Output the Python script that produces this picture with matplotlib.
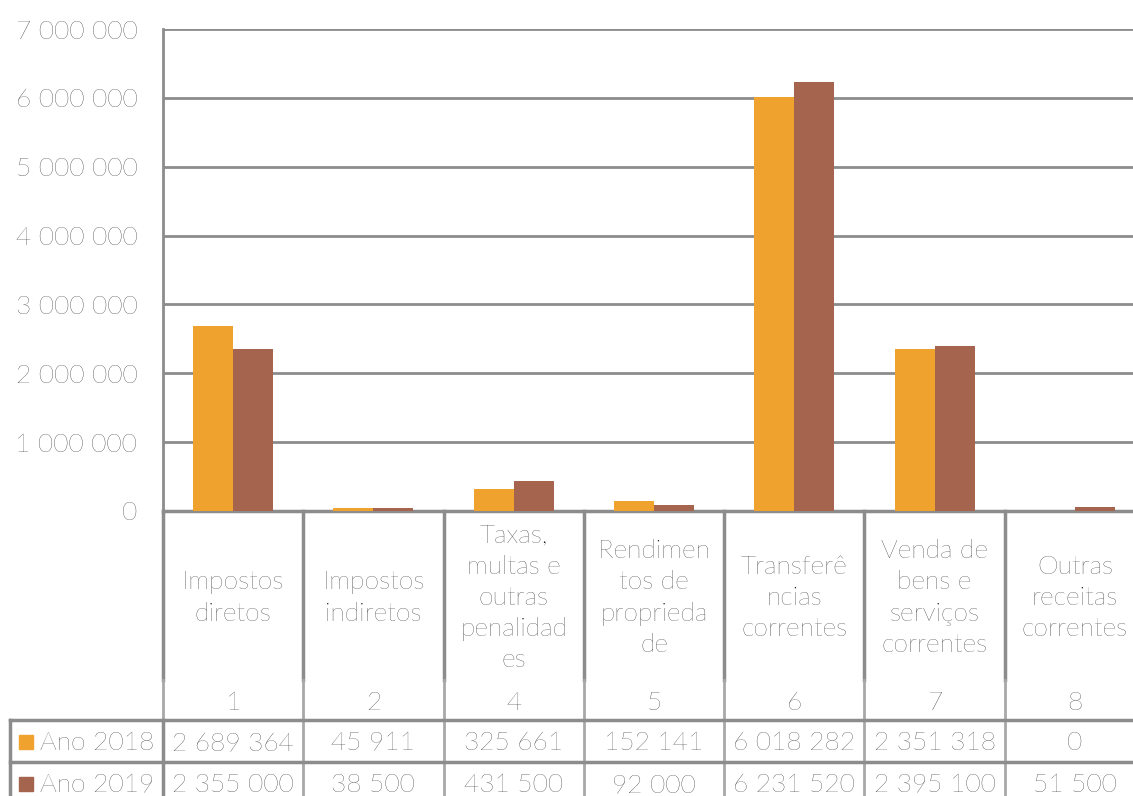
import matplotlib.pyplot as plt
from matplotlib.patches import Rectangle

plt.rcParams['font.family'] = ['Lato', 'DejaVu Sans']
plt.rcParams['font.weight'] = 'light'

# receitas correntes por capítulo
codes = ['1', '2', '4', '5', '6', '7', '8']
labels = ['Impostos\ndiretos', 'Impostos\nindiretos',
          'Taxas,\nmultas e\noutras\npenalidad\nes',
          'Rendimen\ntos de\nproprieda\nde',
          'Transferê\nncias\ncorrentes',
          'Venda de\nbens e\nserviços\ncorrentes',
          'Outras\nreceitas\ncorrentes']
ano_2018 = [2689364, 45911, 325661, 152141, 6018282, 2351318, 0]
ano_2019 = [2355000, 38500, 431500, 92000, 6231520, 2395100, 51500]
series = [('Ano 2018', ano_2018, '#F0A22E'), ('Ano 2019', ano_2019, '#A5644E')]
yticks = [0, 1000000, 2000000, 3000000, 4000000, 5000000, 6000000, 7000000]

grid_c = '#8C8C8C'
txt_c = '#0A0A0A'
fs = 19

fig = plt.figure(figsize=(11.33, 7.96), dpi=100)
ax = fig.add_axes([163 / 1133, 285 / 796, 982 / 1133, 482 / 796])

x = list(range(len(codes)))
w = 0.285
ax.bar([i - w / 2 for i in x], ano_2018, width=w, color=series[0][2], zorder=3)
ax.bar([i + w / 2 for i in x], ano_2019, width=w, color=series[1][2], zorder=3)

ax.set_xlim(-0.5, len(codes) - 0.5)
ax.set_ylim(0, 7000000)
ax.set_yticks(yticks)
ax.set_yticklabels([f'{v:,}'.replace(',', ' ') for v in yticks], fontsize=fs, color=txt_c)
ax.tick_params(axis='y', length=0, pad=18.5)
ax.set_xticks([])
ax.yaxis.grid(True, color=grid_c, linewidth=2)
for s in ['top', 'right', 'bottom']:
    ax.spines[s].set_visible(False)
ax.spines['left'].set_color(grid_c)
ax.spines['left'].set_linewidth(2)

# data table underneath the plot
tr = ax.get_xaxis_transform()
px = 482.0
def ya(py):
    return (511 - py) / px

left = -0.5 - 153 / 140.3
y_code_top = ya(680)
y_hdr = ya(720)
y_mid = ya(762)
y_bot = ya(800)

ax.plot([-0.5, 7.5], [0, 0], color=grid_c, lw=2.5, transform=tr, clip_on=False)
for b in [i - 0.5 for i in range(len(codes) + 1)]:
    ax.plot([b, b], [0, y_code_top], color=grid_c, lw=2.5, transform=tr, clip_on=False)
    ax.plot([b, b], [y_code_top, y_bot], color='#A8A8A8', lw=2, transform=tr, clip_on=False)
ax.plot([-0.5, -0.5], [y_hdr, y_bot], color=grid_c, lw=2.5, transform=tr, clip_on=False)
ax.plot([left, left], [y_hdr, y_bot], color=grid_c, lw=2.5, transform=tr, clip_on=False)
for yy in [y_hdr, y_mid]:
    ax.plot([left, 7.5], [yy, yy], color=grid_c, lw=2.5, transform=tr, clip_on=False)

for i in x:
    ax.text(i, ya(598), labels[i], ha='center', va='center', fontsize=fs,
            linespacing=1.38, transform=tr, color=txt_c)
    ax.text(i, ya(703), codes[i], ha='center', va='center', fontsize=fs,
            transform=tr, color=txt_c)

row_y = [ya(743), ya(785)]
for (name, vals, col), ry in zip(series, row_y):
    ax.add_patch(Rectangle((left + 9 / 140.3, ry - 6 / px), 14 / 140.3, 14 / px,
                           transform=tr, color=col, clip_on=False))
    ax.text(left + 30 / 140.3, ry, name, ha='left', va='center', fontsize=fs,
            transform=tr, color=txt_c)
    for i, v in zip(x, vals):
        ax.text(i, ry, f'{v:,}'.replace(',', ' '), ha='center', va='center',
                fontsize=fs, transform=tr, color=txt_c)

fig.savefig('out.png', dpi=100)
